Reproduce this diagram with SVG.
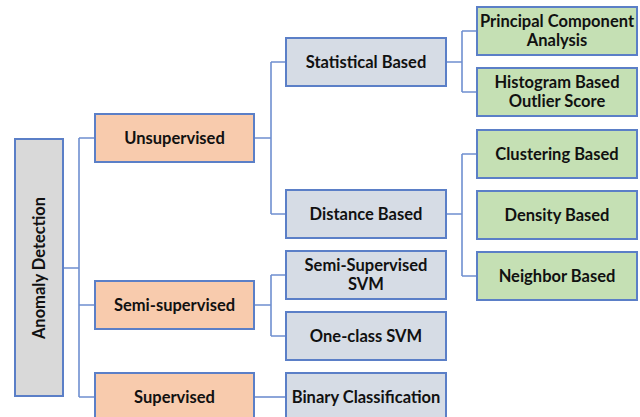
<svg xmlns="http://www.w3.org/2000/svg" width="640" height="417" viewBox="0 0 640 417">
<style>
rect{stroke:#5b7fc7;stroke-width:2}
.g{fill:#d9d9d9}.o{fill:#f8cbad}.b{fill:#d6dce5}.n{fill:#c5e0b4}
text{font-family:Lato,"Open Sans",sans-serif;font-weight:bold;font-size:16.5px;fill:#111;text-anchor:middle}
.c path{fill:none;stroke:#6f8fd0;stroke-width:1.6}
</style>
<rect width="640" height="417" fill="#fff" style="stroke:none"/>
<g class="c">
<path d="M63 268H79M79 138V397M79 138H95M79 305H95M79 397H95"/>
<path d="M254 138H271M271 62V214M271 62H286M271 214H286"/>
<path d="M254 305H271M271 275V336M271 275H286M271 336H286"/>
<path d="M254 397H286"/>
<path d="M446 62H462M462 31V92M462 31H477M462 92H477"/>
<path d="M446 214H462M462 154V276M462 154H477M462 276H477"/>
</g>
<g id="anomaly"><rect class="g" x="15" y="139" width="48" height="257"/><text transform="translate(45,268) rotate(-90)">Anomaly Detection</text></g>
<g id="unsupervised"><rect class="o" x="95" y="114" width="159" height="48"/><text x="174.5" y="144">Unsupervised</text></g>
<g id="semisupervised"><rect class="o" x="95" y="281" width="159" height="48"/><text x="174.5" y="311">Semi-supervised</text></g>
<g id="supervised"><rect class="o" x="95" y="373" width="159" height="48"/><text x="174.5" y="403">Supervised</text></g>
<g id="statistical"><rect class="b" x="286" y="38" width="160" height="48"/><text x="366" y="68">Statistical Based</text></g>
<g id="distance"><rect class="b" x="286" y="190" width="160" height="48"/><text x="366" y="220">Distance Based</text></g>
<g id="semisvm"><rect class="b" x="286" y="251" width="160" height="48"/><text x="366" y="271">Semi-Supervised</text><text x="366" y="290">SVM</text></g>
<g id="oneclass"><rect class="b" x="286" y="312" width="160" height="48"/><text x="366" y="342">One-class SVM</text></g>
<g id="binary"><rect class="b" x="286" y="373" width="160" height="48"/><text x="366" y="403">Binary Classification</text></g>
<g id="pca"><rect class="n" x="477" y="7" width="160" height="48"/><text x="557" y="27">Principal Component</text><text x="557" y="46">Analysis</text></g>
<g id="hbos"><rect class="n" x="477" y="68" width="160" height="48"/><text x="557" y="88">Histogram Based</text><text x="557" y="107">Outlier Score</text></g>
<g id="clustering"><rect class="n" x="477" y="130" width="160" height="48"/><text x="557" y="160">Clustering Based</text></g>
<g id="density"><rect class="n" x="477" y="191" width="160" height="48"/><text x="557" y="221">Density Based</text></g>
<g id="neighbor"><rect class="n" x="477" y="252" width="160" height="48"/><text x="557" y="282">Neighbor Based</text></g>
</svg>
